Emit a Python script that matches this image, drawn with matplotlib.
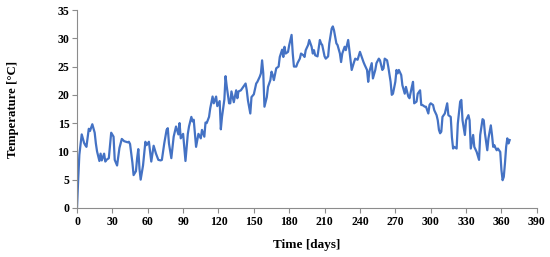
import matplotlib
matplotlib.use("Agg")
import matplotlib.pyplot as plt

days = [0, 1, 2, 4, 6, 7, 8, 10, 11, 13, 15, 16, 17, 19, 20, 21, 23, 24, 25, 27,
        29, 31, 32, 34, 36, 38, 40, 43, 44, 45, 47, 48, 50, 51, 52, 53, 54, 56, 58, 59,
        61, 63, 65, 67, 69, 71, 72, 74, 76, 77, 78, 80, 82, 84, 86, 87, 88, 90, 92, 94,
        95, 97, 98, 99, 101, 102, 103, 105, 106, 108, 109, 110, 112, 113, 115, 116, 118, 119, 121, 122,
        123, 125, 126, 127, 129, 130, 131, 133, 135, 136, 137, 139, 141, 143, 144, 145, 147, 148, 150, 152,
        153, 155, 156, 157, 158, 159, 161, 162, 164, 165, 166, 167, 169, 171, 172, 174, 175, 176, 177, 179,
        180, 182, 183, 184, 186, 187, 189, 190, 192, 193, 194, 196, 197, 199, 200, 201, 202, 204, 206, 207,
        208, 210, 211, 213, 214, 216, 217, 218, 220, 221, 223, 224, 225, 227, 228, 230, 231, 232, 233, 235,
        236, 238, 240, 241, 243, 244, 246, 247, 248, 250, 251, 253, 254, 256, 257, 259, 260, 261, 263, 264,
        266, 267, 268, 270, 271, 272, 273, 275, 276, 278, 279, 281, 282, 284, 285, 286, 288, 289, 291, 292,
        293, 295, 296, 298, 299, 300, 302, 303, 305, 306, 307, 308, 309, 310, 312, 314, 315, 317, 318, 319,
        320, 322, 323, 325, 326, 327, 328, 329, 330, 332, 333, 334, 336, 337, 339, 341, 342, 344, 345, 346,
        348, 349, 351, 352, 353, 354, 355, 356, 357, 359, 360, 361, 362, 363, 364, 365, 366, 367]

temps = [0.0, 5.0, 9.4, 13.0, 11.5, 11.1, 10.8, 14.0, 13.6, 14.8, 13.3, 11.4, 10.0, 8.3, 9.6, 8.4, 9.6, 8.2, 8.5, 8.8,
         13.3, 12.6, 8.5, 7.5, 10.6, 12.2, 11.8, 11.6, 11.7, 11.3, 8.0, 5.8, 6.5, 8.8, 10.4, 6.9, 5.0, 7.5, 11.7, 11.1,
         11.7, 8.2, 11.0, 9.6, 8.5, 8.4, 8.5, 11.4, 13.8, 14.1, 11.4, 8.8, 12.6, 14.4, 13.0, 15.0, 12.3, 13.1, 8.3, 13.1,
         14.4, 16.1, 15.3, 15.6, 10.8, 12.0, 13.1, 12.3, 13.8, 12.6, 15.1, 15.0, 16.1, 17.6, 19.7, 18.5, 19.7, 18.0, 18.9, 13.9,
         16.1, 19.2, 23.3, 21.5, 18.5, 18.5, 20.6, 18.7, 20.8, 19.4, 20.6, 20.8, 21.4, 22.0, 20.8, 19.0, 16.7, 19.6, 20.1, 22.0,
         22.3, 23.2, 23.8, 26.1, 23.8, 17.9, 19.6, 21.4, 22.6, 24.1, 23.5, 22.6, 24.7, 25.0, 26.7, 28.0, 26.7, 28.5, 27.3, 27.6,
         28.8, 30.6, 27.3, 25.0, 25.0, 25.6, 26.4, 27.3, 27.0, 26.7, 27.9, 28.8, 29.7, 28.5, 27.3, 27.9, 27.0, 26.8, 29.7, 29.1,
         28.8, 26.8, 26.4, 26.8, 29.1, 31.7, 32.1, 31.4, 29.1, 28.8, 27.3, 25.8, 27.3, 28.5, 27.9, 29.7, 27.9, 26.1, 24.4, 25.8,
         26.4, 26.2, 27.6, 27.0, 25.8, 25.3, 24.4, 22.3, 24.1, 25.6, 22.9, 24.4, 25.6, 26.4, 26.1, 24.4, 24.7, 26.4, 26.1, 25.0,
         22.3, 20.0, 20.2, 22.3, 24.4, 23.8, 24.4, 23.5, 21.7, 20.2, 21.4, 19.7, 19.4, 21.4, 22.3, 18.5, 18.8, 20.2, 20.8, 18.2,
         18.2, 17.9, 17.9, 16.7, 18.2, 18.5, 18.2, 17.3, 16.4, 15.5, 13.8, 13.2, 13.5, 16.1, 16.7, 18.5, 16.4, 16.1, 12.5, 10.5,
         10.8, 10.5, 14.9, 18.8, 19.1, 15.5, 14.2, 12.9, 15.5, 16.4, 15.5, 10.5, 12.9, 10.8, 9.9, 8.5, 12.9, 15.7, 15.5, 13.2,
         10.2, 12.3, 14.6, 12.9, 10.8, 11.1, 10.6, 10.2, 10.5, 9.9, 6.7, 4.9, 5.5, 7.9, 10.8, 12.3, 11.4, 12.0]

x_ticks = list(range(0, 391, 30))
y_ticks = list(range(0, 36, 5))

plt.rcParams['font.family'] = ['Liberation Serif', 'DejaVu Serif']

fig = plt.figure(figsize=(5.5, 2.57), dpi=100)
ax = fig.add_axes([0.140, 0.191, 0.836, 0.770])
ax.plot(days, temps, color='#4472C4', linewidth=1.6)

ax.set_xlim(0, 390)
ax.set_ylim(0, 35)
ax.set_xticks(x_ticks)
ax.set_yticks(y_ticks)
for sp in ['top', 'right']:
    ax.spines[sp].set_visible(False)
for sp in ['left', 'bottom']:
    ax.spines[sp].set_color('#8c8c8c')
    ax.spines[sp].set_linewidth(0.8)
ax.tick_params(axis='both', direction='out', length=3.5, width=0.8, color='#8c8c8c',
               labelsize=8.5, pad=2)
for lab in ax.get_xticklabels() + ax.get_yticklabels():
    lab.set_fontweight('bold')

ax.set_xlabel('Time [days]', fontsize=9.5, fontweight='bold', labelpad=8)
ax.set_ylabel('Temperature [°C]', fontsize=9.2, fontweight='bold', labelpad=28)

fig.savefig('out.png', dpi=100)
